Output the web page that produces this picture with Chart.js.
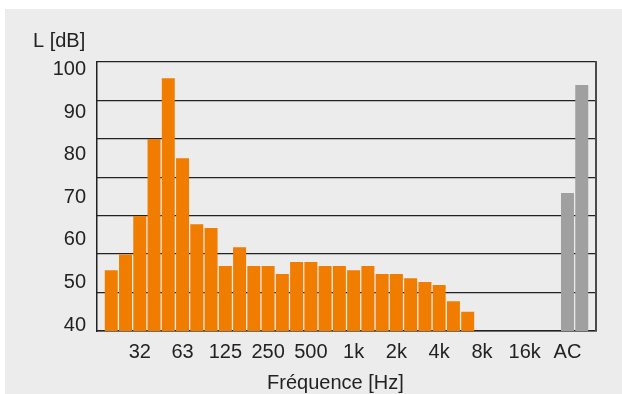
<!DOCTYPE html>
<html>
<head>
<meta charset="utf-8">
<script src="https://cdn.jsdelivr.net/npm/chart.js@4/dist/chart.umd.min.js"></script>
<style>
  html, body { margin: 0; background: #fff; }
  .wrap { position: absolute; left: 5px; top: 9px; width: 617px; height: 385px; background: #ececec; }
</style>
</head>
<body>
<div class="wrap"><canvas class="spectrum-chart"></canvas></div>
<script>
// third-octave bands, 20 Hz .. 20 kHz
const bands = ['20', '25', '31.5', '40', '50', '63', '80', '100', '125', '160', '200', '250', '315',
  '400', '500', '630', '800', '1k', '1.25k', '1.6k', '2k', '2.5k', '3.15k', '4k', '5k', '6.3k',
  '8k', '10k', '12.5k', '16k', '20k'];
const levels = [52.9, 56.6, 65.6, 83.7, 98.0, 79.2, 63.7, 62.8, 53.9, 58.3, 53.9, 53.9, 52.0,
  54.8, 54.8, 53.9, 53.9, 52.9, 53.9, 52.0, 52.0, 51.0, 50.1, 49.4, 45.6, 43.1];
const weighted = ['A', 'C'];
const weightedLevels = [71.0, 96.4];

const yTicks = [40, 50, 60, 70, 80, 90, 100];
const shownBands = ['31.5', '63', '125', '250', '500', '1k', '2k', '4k', '8k', '16k', 'A'];
const shownText = ['32', '63', '125', '250', '500', '1k', '2k', '4k', '8k', '16k', 'AC'];

// blank slot at each end and one between the bands and A/C
const labels = ['', ...bands, '', ...weighted, ''];
const bandData = labels.map(l => {
  const i = bands.indexOf(l);
  return i >= 0 && i < levels.length ? levels[i] : null;
});
const weightedData = labels.map(l => {
  const i = weighted.indexOf(l);
  return i >= 0 ? weightedLevels[i] : null;
});

const font = { family: 'Liberation Sans, Arial, sans-serif', size: 20 };
const ink = '#222';

new Chart(document.querySelector('.spectrum-chart'), {
  type: 'bar',
  data: {
    labels: labels,
    datasets: [{
        label: 'Terz',
        data: bandData,
        backgroundColor: '#f07d00',
        grouped: false
    },
    {
        label: 'A/C',
        data: weightedData,
        backgroundColor: '#9fa09f',
        grouped: false
    }]
  },
  options: {
    responsive: true,
    maintainAspectRatio: false,
    animation: false,
    layout: {
      padding: { left: 28, right: 26, top: 0, bottom: 1 }
    },
    datasets: {
      bar: { categoryPercentage: 1, barPercentage: 0.91, borderWidth: 0 }
    },
    scales: {
        x: {
          offset: false,
          grid: { display: false, drawTicks: false },
          border: { display: true, color: ink, width: 1.5 },
          ticks: {
            font: font,
            color: ink,
            padding: 9,
            maxRotation: 0,
            autoSkip: false,
            callback: function (v) {
              const i = shownBands.indexOf(this.getLabelForValue(v));
              return i < 0 ? '' : shownText[i];
            }
          },
          title: {
            display: true,
            text: 'Fréquence [Hz]\u00a0\u00a0\u00a0\u00a0',
            font: { family: font.family, size: 20, lineHeight: 1 },
            color: ink,
            padding: { top: 0, bottom: 0 }
          }
        },
        y: {
          min: 38.6,
          max: 101.8,
          afterBuildTicks: s => { s.ticks = yTicks.map(v => ({ value: v })); },
          afterFit: s => { s.width = 64; },
          grid: { display: false, drawTicks: false },
          border: { display: true, color: ink, width: 1.5 },
          ticks: { font: font, color: ink, padding: 11 }
        },
        grid: {
          position: 'right',
          min: 0,
          max: 7,
          ticks: { display: false, stepSize: 1 },
          grid: { color: ink, lineWidth: 1.3, drawTicks: false },
          border: { display: true, color: '#4a4a4a', width: 2 }
        }
    },
    plugins: {
        legend: { display: false },
        tooltip: { enabled: false },
        title: {
          display: true,
          text: 'L [dB]',
          align: 'start',
          font: { family: font.family, size: 20, weight: 'normal' },
          color: ink,
          padding: { top: 20, bottom: 9 }
        }
    }
  }
});
</script>
</body>
</html>
